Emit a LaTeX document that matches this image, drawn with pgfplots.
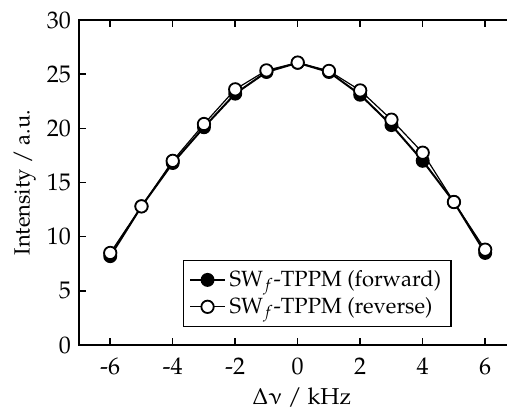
\documentclass[border=0pt]{standalone}
\usepackage[T1]{fontenc}
\usepackage{mathpazo}
\usepackage{upgreek}
\usepackage{pgfplots}
\pgfplotsset{compat=1.18}
\begin{document}
\begin{tikzpicture}
\begin{axis}[name=ax, at={(0,0)}, anchor=south west,
  scale only axis, width=218.7pt, height=162.5pt,
  xmin=-7, xmax=7, ymin=0, ymax=30,
  xtick={-6,-4,...,6}, ytick={0,5,...,30},
  tick align=inside, xtick pos=both, ytick pos=left,
  major tick length=3.5pt,
  axis line style={line width=0.75pt},
  every tick/.style={line width=0.75pt, black},
  /pgf/number format/assume math mode=true,
  tick label style={font=\fontsize{12}{14}\selectfont},
  xticklabel style={yshift=-3pt},
  yticklabel style={xshift=-0.5pt},
  xlabel={$\Delta\upnu$ / kHz},
  ylabel={Intensity / a.u.},
  every axis x label/.style={at={(axis description cs:0.509,-0.163)}, anchor=center, font=\fontsize{11.5}{13}\selectfont},
  every axis y label/.style={at={(axis description cs:-0.124,0.5)}, anchor=center, rotate=90, font=\fontsize{11}{13}\selectfont},
  legend style={at={(axis cs:-3.68,1.66)}, anchor=south west, draw=black, line width=0.75pt,
    font=\fontsize{11}{13}\selectfont, inner sep=3pt, row sep=0pt, cells={anchor=west}},
  legend cell align=left,
]
\addplot[black, line width=1pt, mark=*, mark size=3.1pt, mark options={fill=black, line width=0.75pt}]
 coordinates {(-6,8.2) (-5,12.8) (-4,16.8) (-3,20.1) (-2,23.2) (-1,25.2) (0,26.05) (1,25.2) (2,23.1) (3,20.3) (4,17.0) (5,13.2) (6,8.5)};
\addlegendentry{SW$_f$-TPPM (forward)}
\addplot[black, line width=0.6pt, mark=*, mark size=3.1pt, mark options={fill=white, line width=0.9pt}]
 coordinates {(-6,8.5) (-5,12.8) (-4,17.0) (-3,20.4) (-2,23.6) (-1,25.35) (0,26.07) (1,25.3) (2,23.5) (3,20.8) (4,17.75) (5,13.2) (6,8.8)};
\addlegendentry{SW$_f$-TPPM (reverse)}
\end{axis}
\pgfresetboundingbox
\useasboundingbox ([xshift=-39.5pt,yshift=-32pt]ax.south west) rectangle ++(253.5pt,204.5pt);
\end{tikzpicture}
\end{document}
